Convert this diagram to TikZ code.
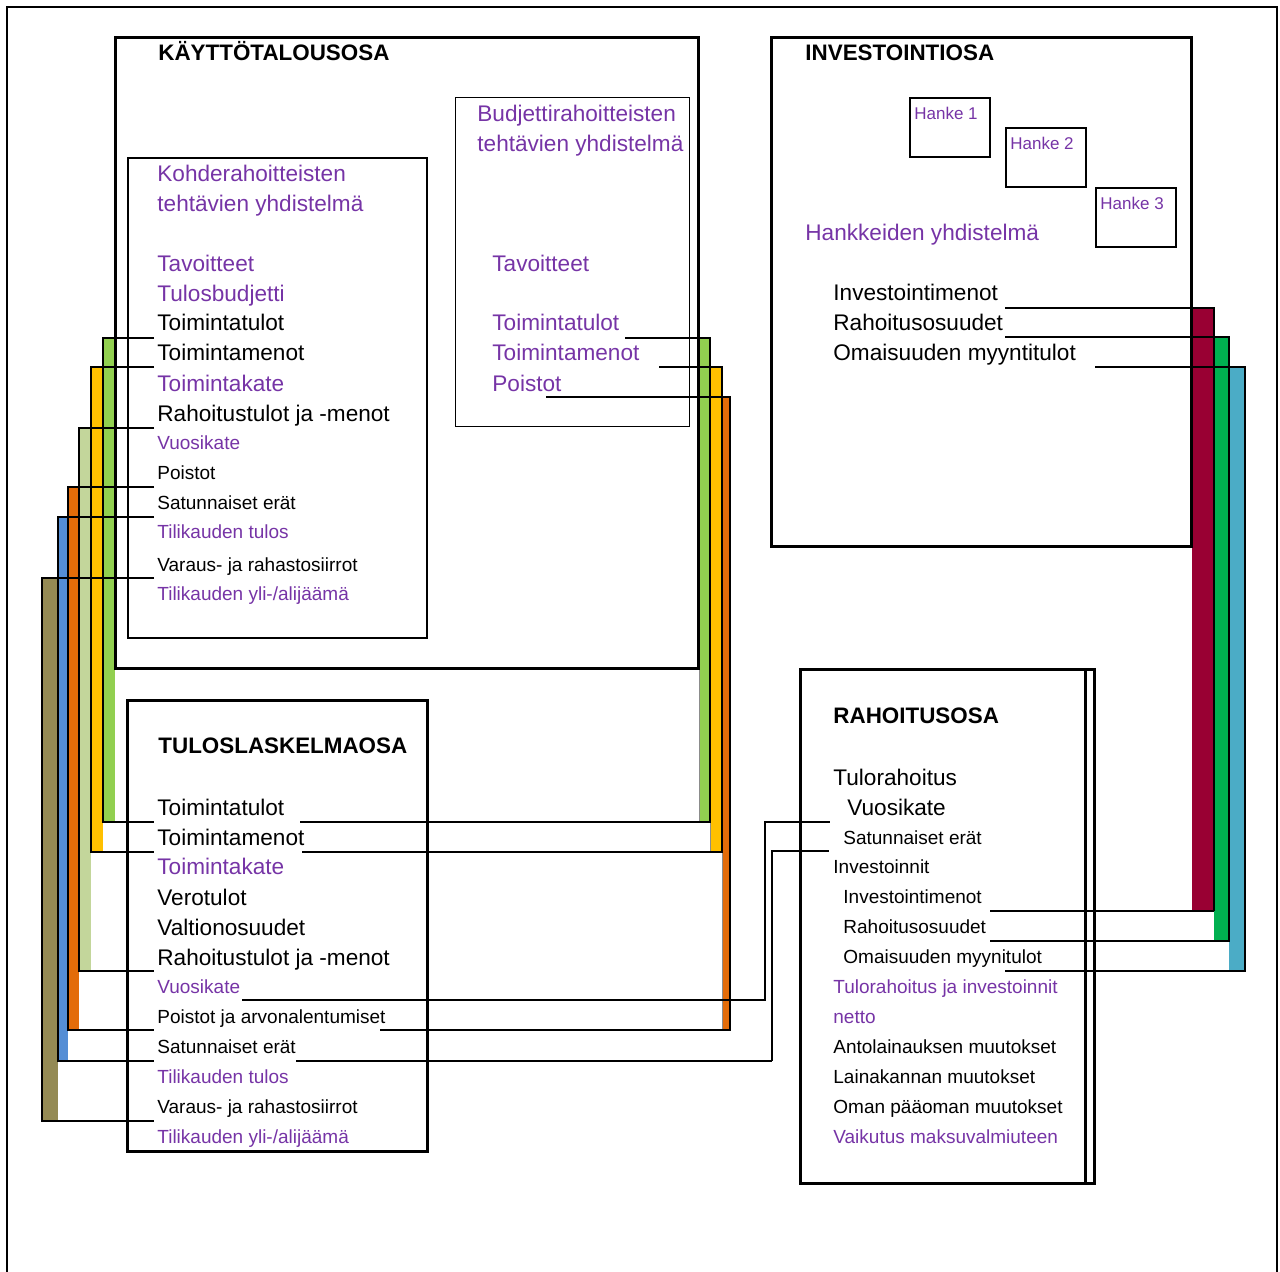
\documentclass[tikz,border=0pt]{standalone}
\usepackage{fontspec}
\setmainfont{Liberation Sans}
\usepackage{tikz}
\usetikzlibrary{positioning}
\definecolor{txtpurple}{RGB}{118,52,166}
\definecolor{barlime}{RGB}{146,208,80}
\definecolor{baramber}{RGB}{255,192,0}
\definecolor{barsage}{RGB}{195,214,155}
\definecolor{barorange}{RGB}{227,108,9}
\definecolor{barblue}{RGB}{85,142,213}
\definecolor{barkhaki}{RGB}{148,138,84}
\definecolor{barwine}{RGB}{153,0,51}
\definecolor{bargreen}{RGB}{0,176,80}
\definecolor{barteal}{RGB}{75,172,198}

\begin{document}
\begin{tikzpicture}[x=0.5pt,y=-0.5pt,
  bigtxt/.style={anchor=west,inner sep=0pt,text height=8.1pt,text depth=0pt,font=\fontsize{11.3}{13}\selectfont},
  smalltxt/.style={anchor=west,inner sep=0pt,text height=6.8pt,text depth=0pt,font=\fontsize{9.5}{11}\selectfont},
  titletxt/.style={anchor=west,inner sep=0pt,text height=8pt,text depth=0pt,font=\fontsize{11.2}{13}\selectfont\bfseries},
  hanketxt/.style={anchor=west,inner sep=0pt,text height=6.2pt,text depth=0pt,font=\fontsize{8.5}{10}\selectfont,text=txtpurple},
  hl/.style={text=txtpurple},
  mainbox/.style={draw,line width=1.5pt},
  subbox/.style={draw,line width=0.75pt},
  link/.style={line width=0.55pt},
  boldlink/.style={line width=1.1pt},
  barside/.style={draw=black!45,line width=0.4pt}]
\useasboundingbox (0,0) rectangle (1280,1272);
\draw[line width=1pt] (7,1272) -- (7,7) -- (1277,7) -- (1277,1272);

% coloured bands on the left
\fill[barlime]   (103,338) rectangle (115,822);
\fill[baramber]  (91,367)  rectangle (103,852);
\fill[barsage]   (79,428)  rectangle (91,971);
\fill[barorange] (68,487)  rectangle (79,1030);
\fill[barblue]   (58,517)  rectangle (68,1061);
\fill[barkhaki]  (42,578)  rectangle (58,1121);
% coloured bands on the right of the operating part
\filldraw[barside,fill=barlime]   (699,338) rectangle (710,822);
\filldraw[barside,fill=baramber]  (710,367) rectangle (722,852);
\filldraw[barside,fill=barorange] (722,397) rectangle (730,1030);
% coloured bands of the investment part
\fill[barwine]  (1192,308) rectangle (1214,911);
\fill[bargreen] (1214,337) rectangle (1229,941);
\fill[barteal]  (1229,367) rectangle (1245,971);

% parts
\draw[mainbox] (115,38) rectangle (698,669);
\draw[subbox] (128,158) rectangle (427,638);
\draw[line width=0.5pt] (455,98) rectangle (689,427);
\draw[mainbox] (771,38) rectangle (1191,547);
\draw[subbox] (910,98) rectangle (990,157);
\draw[subbox] (1006,128) rectangle (1086,187);
\draw[subbox] (1096,188) rectangle (1176,247);
\draw[mainbox] (127,701) rectangle (427,1151);
\draw[mainbox] (800,670) rectangle (1094,1183);
\draw[mainbox] (1085,670) -- (1085,1183);

% left brackets
\draw[link] (154,338) -| (103,822) -- (154,822);
\draw[link] (154,367) -| (91,852) -- (154,852);
\draw[link] (154,428) -| (79,971) -- (154,971);
\draw[boldlink] (154,487) -| (68,1030) -- (154,1030);
\draw[boldlink] (154,517) -| (58,1061) -- (154,1061);
\draw[link] (154,578) -| (42,1121) -- (154,1121);
% right brackets
\draw[link] (625,338) -| (710,822) -- (300,822);
\draw[link] (659,367) -| (722,852) -- (302,852);
\draw[boldlink] (546,397) -| (730,1030) -- (380,1030);
% links to the financing part
\draw[link] (242,1000) -| (765,822) -- (830,822);
\draw[boldlink] (296,1061) -- (772,1061);
\draw[link] (772,1061) |- (829,851);
% investment brackets
\draw[link] (1005,308) -| (1214,911);
\draw[boldlink] (1214,911) -- (990,911);
\draw[link] (1005,337) -| (1229,941) -- (990,941);
\draw[link] (1095,367) -| (1245,971) -- (1005,971);

% KAYTTOTALOUSOSA
\node[titletxt] (kt-title) at (158,53) {KÄYTTÖTALOUSOSA};
\node[bigtxt,hl] (kh-head1) at (157,173) {Kohderahoitteisten};
\node[bigtxt,hl] (kh-head2) at (157,203) {tehtävien yhdistelmä};
\node[bigtxt,hl] (kh-tav) at (157,263) {Tavoitteet};
\node[bigtxt,hl] (kh-tb) at (157,293) {Tulosbudjetti};
\node[bigtxt] (kh-tt) at (157,322) {Toimintatulot};
\node[bigtxt] (kh-tm) at (157,352) {Toimintamenot};
\node[bigtxt,hl] (kh-tk) at (157,383) {Toimintakate};
\node[bigtxt] (kh-rah) at (157,413) {Rahoitustulot ja -menot};
\node[smalltxt,hl] (kh-vk) at (157,443) {Vuosikate};
\node[smalltxt] (kh-poi) at (157,473) {Poistot};
\node[smalltxt] (kh-sat) at (157,503) {Satunnaiset erät};
\node[smalltxt,hl] (kh-tilt) at (157,532) {Tilikauden tulos};
\node[smalltxt] (kh-var) at (157,565) {Varaus- ja rahastosiirrot};
\node[smalltxt,hl] (kh-yli) at (157,594) {Tilikauden yli-/alijäämä};

\node[bigtxt,hl] (bu-head1) at (477,113) {Budjettirahoitteisten};
\node[bigtxt,hl] (bu-head2) at (477,143) {tehtävien yhdistelmä};
\node[bigtxt,hl] (bu-tav) at (492,263) {Tavoitteet};
\node[bigtxt,hl] (bu-tt) at (492,322) {Toimintatulot};
\node[bigtxt,hl] (bu-tm) at (492,352) {Toimintamenot};
\node[bigtxt,hl] (bu-poi) at (492,383) {Poistot};

% INVESTOINTIOSA
\node[titletxt] (in-title) at (805,53) {INVESTOINTIOSA};
\node[hanketxt] (hanke1) at (914,113) {Hanke 1};
\node[hanketxt] (hanke2) at (1010,143) {Hanke 2};
\node[hanketxt] (hanke3) at (1100,203) {Hanke 3};
\node[bigtxt,hl] (in-yhd) at (805,232) {Hankkeiden yhdistelmä};
\node[bigtxt] (in-im) at (833,292) {Investointimenot};
\node[bigtxt] (in-ro) at (833,322) {Rahoitusosuudet};
\node[bigtxt] (in-om) at (833,352) {Omaisuuden myyntitulot};

% TULOSLASKELMAOSA
\node[titletxt] (tl-title) at (158,746) {TULOSLASKELMAOSA};
\node[bigtxt] (tl-tt) at (157,807) {Toimintatulot};
\node[bigtxt] (tl-tm) at (157,837) {Toimintamenot};
\node[bigtxt,hl] (tl-tk) at (157,866) {Toimintakate};
\node[bigtxt] (tl-vero) at (157,897) {Verotulot};
\node[bigtxt] (tl-valt) at (157,927) {Valtionosuudet};
\node[bigtxt] (tl-rah) at (157,957) {Rahoitustulot ja -menot};
\node[smalltxt,hl] (tl-vk) at (157,987) {Vuosikate};
\node[smalltxt] (tl-poi) at (157,1017) {Poistot ja arvonalentumiset};
\node[smalltxt] (tl-sat) at (157,1047) {Satunnaiset erät};
\node[smalltxt,hl] (tl-tilt) at (157,1077) {Tilikauden tulos};
\node[smalltxt] (tl-var) at (157,1107) {Varaus- ja rahastosiirrot};
\node[smalltxt,hl] (tl-yli) at (157,1137) {Tilikauden yli-/alijäämä};

% RAHOITUSOSA
\node[titletxt] (ra-title) at (833,716) {RAHOITUSOSA};
\node[bigtxt] (ra-tr) at (833,777) {Tulorahoitus};
\node[bigtxt] (ra-vk) at (847,807) {Vuosikate};
\node[smalltxt] (ra-sat) at (843,838) {Satunnaiset erät};
\node[smalltxt] (ra-inv) at (833,867) {Investoinnit};
\node[smalltxt] (ra-im) at (843,897) {Investointimenot};
\node[smalltxt] (ra-ro) at (843,927) {Rahoitusosuudet};
\node[smalltxt] (ra-om) at (843,957) {Omaisuuden myynitulot};
\node[smalltxt,hl] (ra-net1) at (833,987) {Tulorahoitus ja investoinnit};
\node[smalltxt,hl] (ra-net2) at (833,1017) {netto};
\node[smalltxt] (ra-ant) at (833,1047) {Antolainauksen muutokset};
\node[smalltxt] (ra-lain) at (833,1077) {Lainakannan muutokset};
\node[smalltxt] (ra-oman) at (833,1107) {Oman pääoman muutokset};
\node[smalltxt,hl] (ra-vaik) at (833,1137) {Vaikutus maksuvalmiuteen};
\end{tikzpicture}
\end{document}
